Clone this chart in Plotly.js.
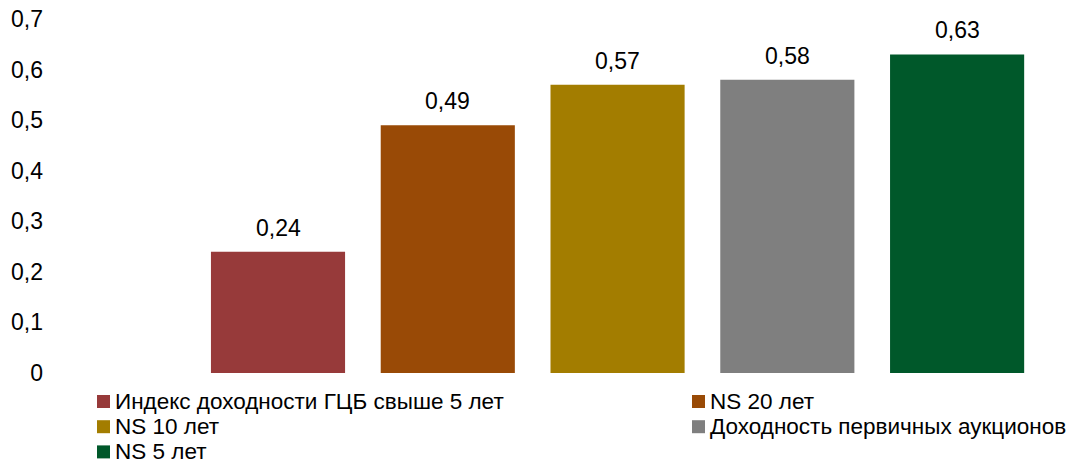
<!DOCTYPE html>
<html>
<head>
<meta charset="utf-8">
<script src="https://cdn.plot.ly/plotly-3.0.1.min.js"></script>
<style>
  html, body { margin: 0; padding: 0; background: #fff; }
  #chart { width: 1092px; height: 465px; }
</style>
</head>
<body>
<div id="chart"></div>
<script>
// Series names (one bar per series)
const seriesNames = [
  "Индекс доходности ГЦБ свыше 5 лет",
  "NS 20 лет",
  "NS 10 лет",
  "Доходность первичных аукционов",
  "NS 5 лет"
];
// Values shown above each bar
const seriesValues = [0.24, 0.49, 0.57, 0.58, 0.63];
// Bar fill colours
const seriesColors = ["#973A3A", "#994A06", "#A37D00", "#7F7F7F", "#00582A"];

const FONT = "Liberation Sans, Arial, sans-serif";
const FS = 23;
const FS_LEGEND = 22.5;

// Page geometry (pixels)
const W = 1092, H = 465;
const M = { l: 50, r: 50, t: 19, b: 92 };
const plotW = W - M.l - M.r;
const plotH = H - M.t - M.b;
const px2x = px => (px - M.l) / plotW;
const py2y = py => (H - M.b - py) / plotH;

const traces = seriesNames.map((name, i) => ({
  type: "bar",
  name: name,
  x: [name],
  y: [seriesValues[i]],
  width: 0.79,
  marker: { color: seriesColors[i], line: { width: 0 } },
  hoverinfo: "y+name"
}));

// Value labels above the bars
const annotations = seriesNames.map((name, i) => ({
  x: name,
  y: seriesValues[i],
  xref: "x",
  yref: "y",
  text: seriesValues[i].toFixed(2).replace(".", ","),
  showarrow: false,
  yanchor: "bottom",
  yshift: 9,
  font: { family: FONT, size: FS, color: "#000" }
}));

// Two-column legend below the plot: square swatch + label
const shapes = [];
const legendCols = [{ sq: 97, txt: 114 }, { sq: 692, txt: 709 }];
const ROW_PITCH = 25.2;
const FIRST_ROW_Y = 401.5;
const SQ = 13;
seriesNames.forEach((name, i) => {
  const col = legendCols[i % 2];
  const cy = FIRST_ROW_Y + Math.floor(i / 2) * ROW_PITCH;
  shapes.push({
    type: "rect",
    xref: "paper", yref: "paper",
    x0: px2x(col.sq), x1: px2x(col.sq + SQ),
    y0: py2y(cy + SQ / 2), y1: py2y(cy - SQ / 2),
    fillcolor: seriesColors[i],
    line: { width: 0 }
  });
  annotations.push({
    xref: "paper", yref: "paper",
    x: px2x(col.txt), y: py2y(cy),
    xanchor: "left", yanchor: "middle",
    align: "left",
    text: name,
    showarrow: false,
    borderpad: 0,
    font: { family: FONT, size: FS_LEGEND, color: "#000" }
  });
});

const layout = {
  width: W,
  height: H,
  margin: { l: M.l, r: M.r, t: M.t, b: M.b, pad: 0 },
  paper_bgcolor: "#fff",
  plot_bgcolor: "#fff",
  separators: ", ",
  barmode: "overlay",
  showlegend: false,
  font: { family: FONT, size: FS, color: "#000" },
  xaxis: {
    type: "category",
    categoryorder: "array",
    categoryarray: seriesNames,
    range: [-1.343, 4.5],
    showticklabels: false,
    showgrid: false,
    zeroline: false,
    showline: false,
    ticks: ""
  },
  yaxis: {
    range: [0, 0.7],
    dtick: 0.1,
    tick0: 0,
    showgrid: false,
    zeroline: false,
    showline: false,
    ticks: "",
    ticklabelstandoff: 6,
    tickfont: { family: FONT, size: FS, color: "#000" }
  },
  shapes: shapes,
  annotations: annotations
};

Plotly.newPlot("chart", traces, layout, { displayModeBar: false, staticPlot: true });
</script>
</body>
</html>
